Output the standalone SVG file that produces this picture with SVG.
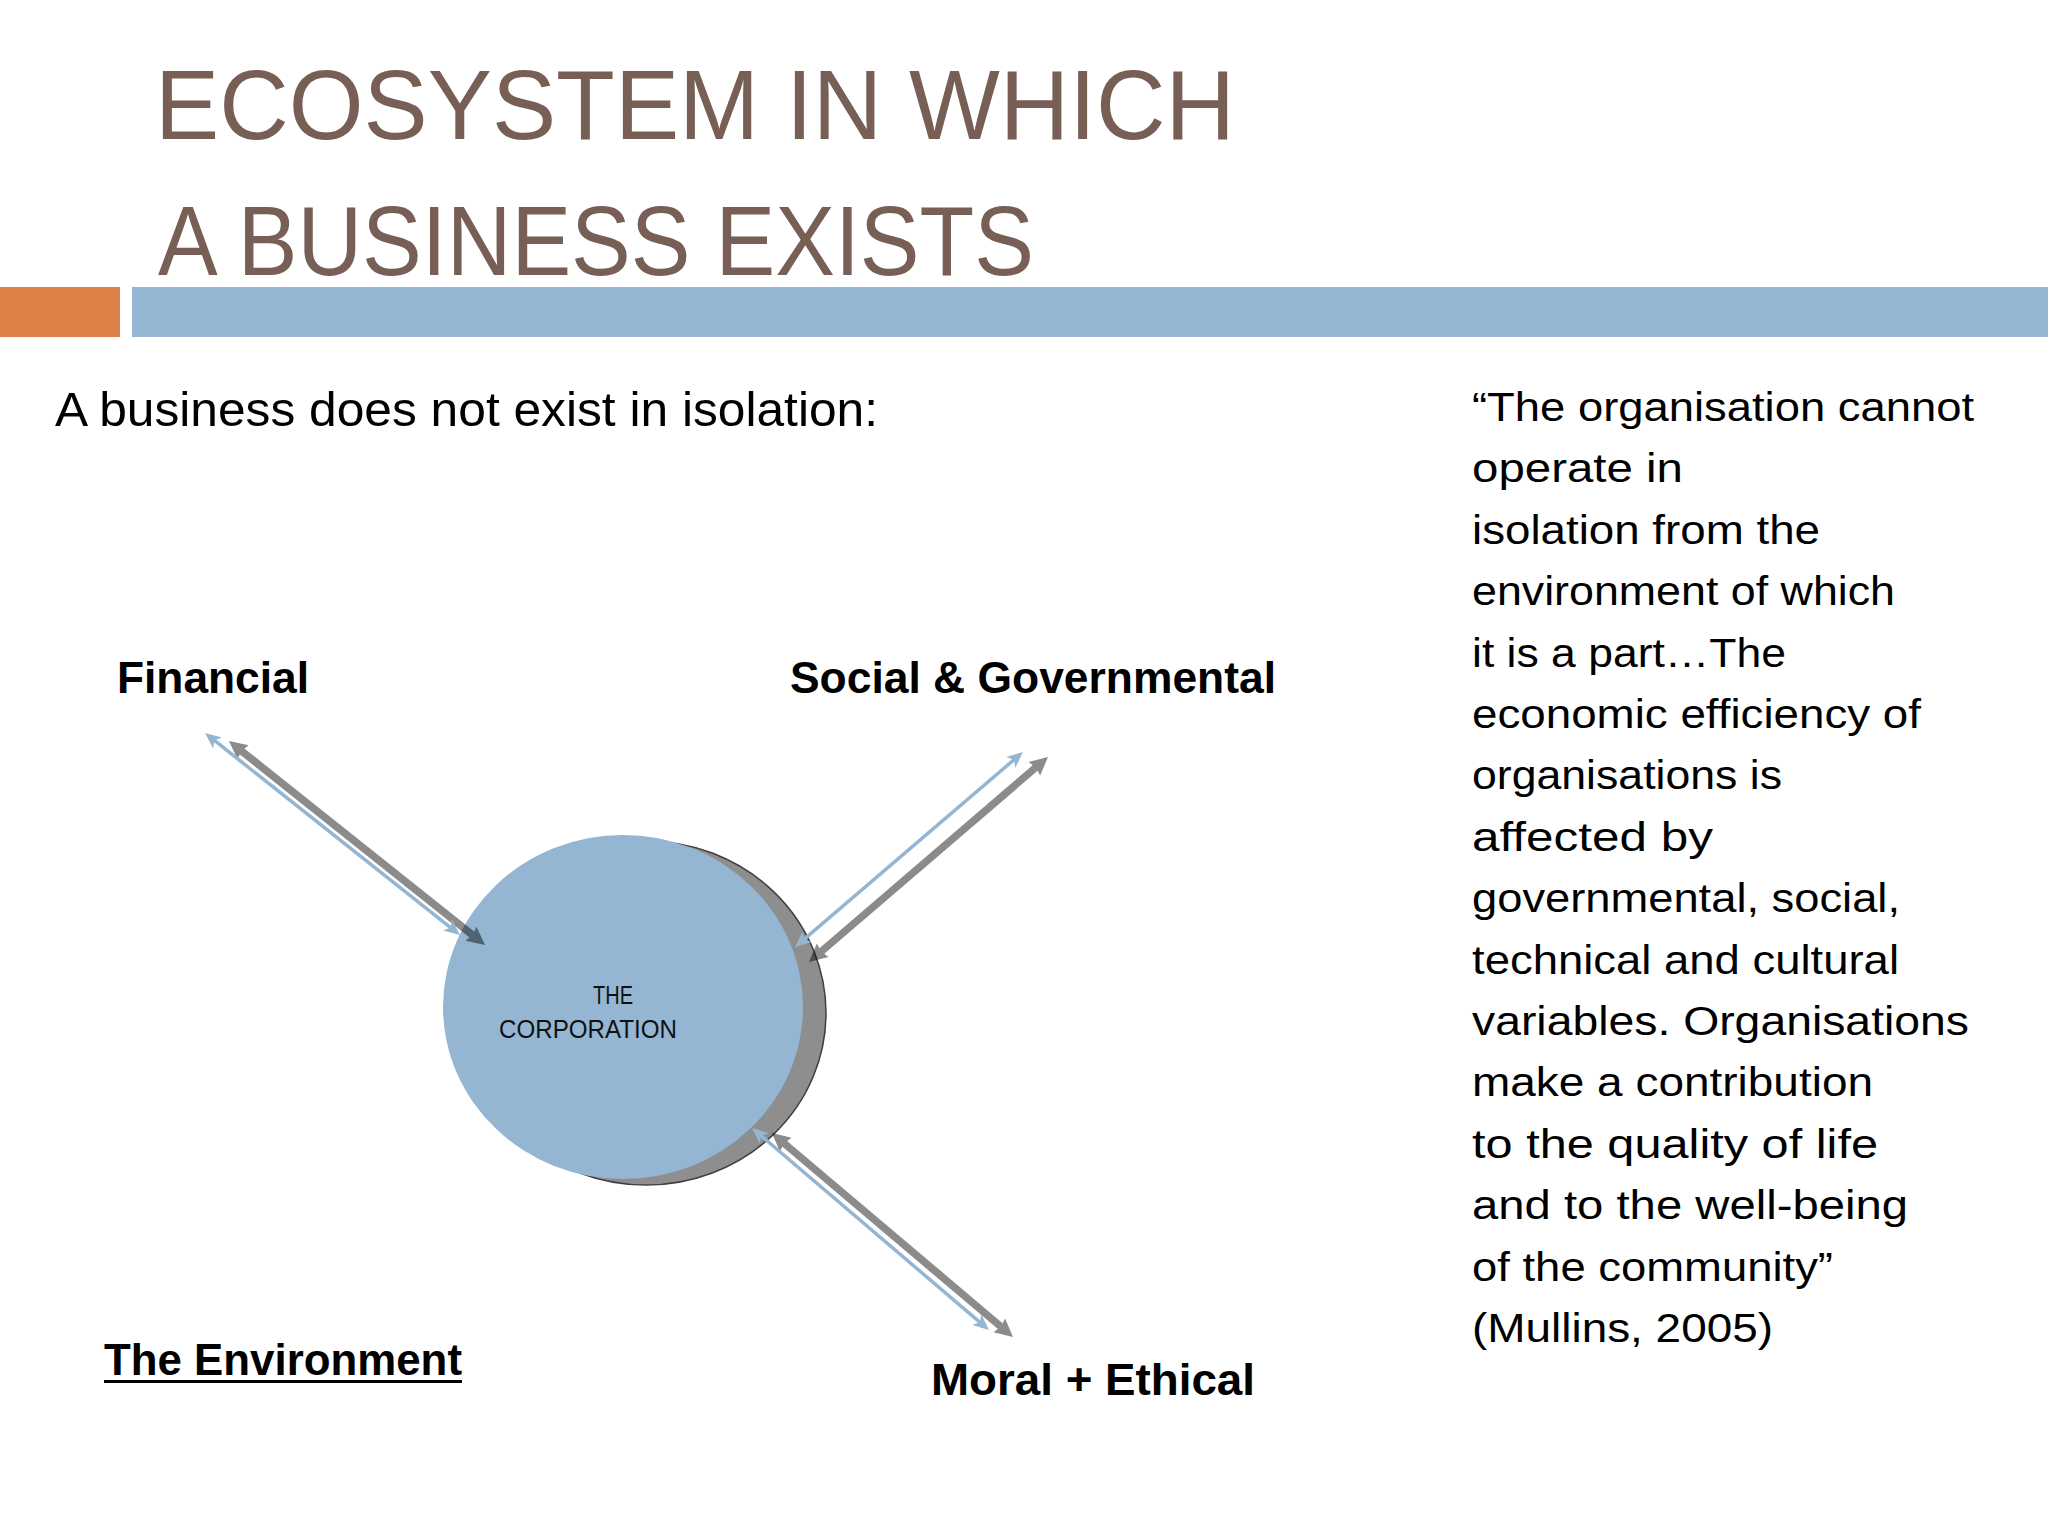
<svg xmlns="http://www.w3.org/2000/svg" width="2048" height="1536" viewBox="0 0 2048 1536">
  <defs>
    <style>
      .title { font-family: "Liberation Sans", Arial, sans-serif; font-size: 99px; fill: #775F55; }
      .body { font-family: "Liberation Sans", Arial, sans-serif; fill: #000000; }
      .sub { font-size: 48px; }
      .quote { font-size: 40px; }
      .label { font-size: 45px; font-weight: bold; }
      .corp { font-family: "Liberation Sans", Arial, sans-serif; font-size: 25px; fill: #111111; }
      .blue-arrow { stroke: #94B6D2; stroke-width: 3.5; fill: none; }
      .gray-arrow { stroke: #000000; stroke-width: 7.5; fill: none; }
    </style>
    <marker id="headBlue" markerUnits="userSpaceOnUse" markerWidth="20" markerHeight="20" viewBox="0 -10 20 20" refX="10" refY="0" orient="auto-start-reverse">
      <path d="M16,0 L0,-7 L4,0 L0,7 Z" fill="#94B6D2"/>
    </marker>
    <marker id="headGray" markerUnits="userSpaceOnUse" markerWidth="22" markerHeight="22" viewBox="0 -11 22 22" refX="8" refY="0" orient="auto-start-reverse">
      <path d="M18,0 L0,-9 L2,0 L0,9 Z" fill="#000000"/>
    </marker>
  </defs>

  <rect x="0" y="0" width="2048" height="1536" fill="#FFFFFF"/>

  <g id="title">
    <text class="title" x="155" y="139" textLength="1080" lengthAdjust="spacingAndGlyphs">ECOSYSTEM IN WHICH</text>
    <text class="title" x="158" y="275" textLength="876" lengthAdjust="spacingAndGlyphs">A BUSINESS EXISTS</text>
  </g>

  <g id="bars">
    <rect x="0" y="287" width="120" height="50" fill="#DD8047"/>
    <rect x="132" y="287" width="1916" height="50" fill="#94B6D2"/>
  </g>

  <g id="subtitle">
    <text class="body sub" x="55" y="426" textLength="823" lengthAdjust="spacingAndGlyphs">A business does not exist in isolation:</text>
  </g>

  <g id="quote" class="body quote">
    <text x="1472" y="421" textLength="502" lengthAdjust="spacingAndGlyphs">“The organisation cannot</text>
    <text x="1472" y="482" textLength="211" lengthAdjust="spacingAndGlyphs">operate in</text>
    <text x="1472" y="544" textLength="348" lengthAdjust="spacingAndGlyphs">isolation from the</text>
    <text x="1472" y="605" textLength="423" lengthAdjust="spacingAndGlyphs">environment of which</text>
    <text x="1472" y="667" textLength="314" lengthAdjust="spacingAndGlyphs">it is a part…The</text>
    <text x="1472" y="728" textLength="449" lengthAdjust="spacingAndGlyphs">economic efficiency of</text>
    <text x="1472" y="789" textLength="310" lengthAdjust="spacingAndGlyphs">organisations is</text>
    <text x="1472" y="851" textLength="241" lengthAdjust="spacingAndGlyphs">affected by</text>
    <text x="1472" y="912" textLength="428" lengthAdjust="spacingAndGlyphs">governmental, social,</text>
    <text x="1472" y="974" textLength="427" lengthAdjust="spacingAndGlyphs">technical and cultural</text>
    <text x="1472" y="1035" textLength="497" lengthAdjust="spacingAndGlyphs">variables. Organisations</text>
    <text x="1472" y="1096" textLength="401" lengthAdjust="spacingAndGlyphs">make a contribution</text>
    <text x="1472" y="1158" textLength="406" lengthAdjust="spacingAndGlyphs">to the quality of life</text>
    <text x="1472" y="1219" textLength="436" lengthAdjust="spacingAndGlyphs">and to the well-being</text>
    <text x="1472" y="1281" textLength="361" lengthAdjust="spacingAndGlyphs">of the community”</text>
    <text x="1472" y="1342" textLength="301" lengthAdjust="spacingAndGlyphs">(Mullins, 2005)</text>
  </g>

  <g id="node-corporation">
    <ellipse cx="646" cy="1013" rx="180" ry="172" fill="#8E8E8E" stroke="#3F3F3F" stroke-width="1.5"/>
    <ellipse cx="623" cy="1007" rx="180" ry="172" fill="#94B6D2"/>
    <text class="corp" x="593" y="1004" textLength="40" lengthAdjust="spacingAndGlyphs">THE</text>
    <text class="corp" x="499" y="1038" textLength="178" lengthAdjust="spacingAndGlyphs">CORPORATION</text>
  </g>

  <g id="node-financial">
    <text class="body label" x="117" y="693" textLength="192" lengthAdjust="spacingAndGlyphs">Financial</text>
  </g>
  <g id="node-social">
    <text class="body label" x="790" y="693" textLength="486" lengthAdjust="spacingAndGlyphs">Social &amp; Governmental</text>
  </g>
  <g id="node-moral">
    <text class="body label" x="931" y="1395" textLength="324" lengthAdjust="spacingAndGlyphs">Moral + Ethical</text>
  </g>
  <g id="node-environment">
    <text class="body label" x="104" y="1375" textLength="358" lengthAdjust="spacingAndGlyphs">The Environment</text>
    <rect x="104" y="1380" width="358" height="3" fill="#000000"/>
  </g>

  <g id="connectors">
    <g opacity="0.45">
      <line class="gray-arrow" x1="236.8" y1="747.2" x2="477.2" y2="938.8" marker-start="url(#headGray)" marker-end="url(#headGray)"/>
    </g>
    <g opacity="0.45">
      <line class="gray-arrow" x1="816.6" y1="955.5" x2="1040.4" y2="763.5" marker-start="url(#headGray)" marker-end="url(#headGray)"/>
    </g>
    <g opacity="0.45">
      <line class="gray-arrow" x1="779.6" y1="1139.5" x2="1005.4" y2="1330.5" marker-start="url(#headGray)" marker-end="url(#headGray)"/>
    </g>
    <line class="blue-arrow" x1="209.7" y1="736.7" x2="455.3" y2="931.3" marker-start="url(#headBlue)" marker-end="url(#headBlue)"/>
    <line class="blue-arrow" x1="799.6" y1="943.1" x2="1018.4" y2="755.9" marker-start="url(#headBlue)" marker-end="url(#headBlue)"/>
    <line class="blue-arrow" x1="756.6" y1="1131.9" x2="984.4" y2="1326.1" marker-start="url(#headBlue)" marker-end="url(#headBlue)"/>
  </g>
</svg>
